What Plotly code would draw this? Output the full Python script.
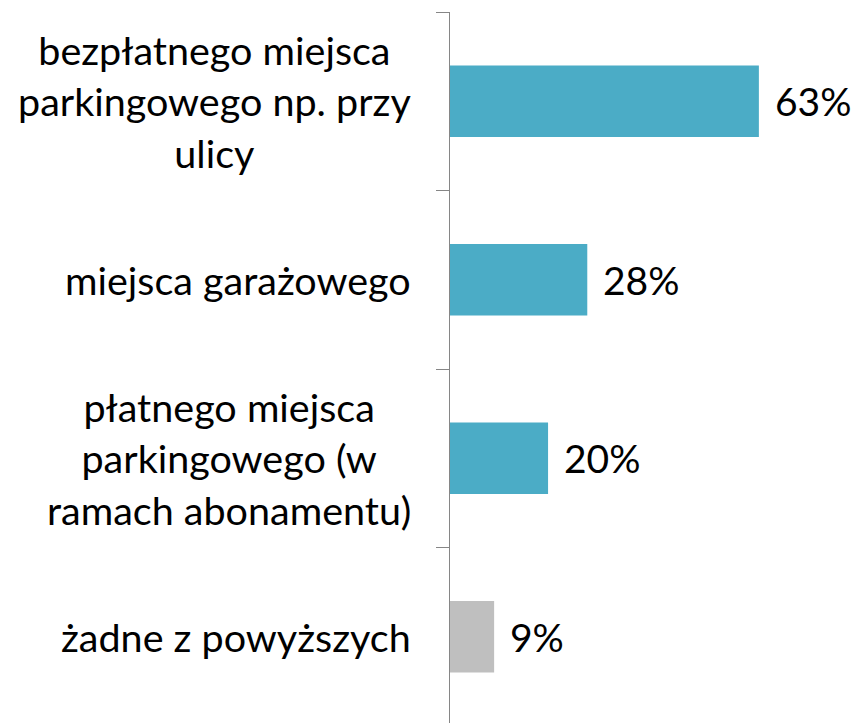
import plotly.graph_objects as go

categories = [
    "bezpłatnego miejsca<br>parkingowego np. przy<br>ulicy",
    "miejsca garażowego",
    "płatnego miejsca<br>parkingowego (w<br>ramach abonamentu)",
    "żadne z powyższych",
]
values = [63, 28, 20, 9]
labels = ["63%", "28%", "20%", "9%"]
colors = ["#4BACC6", "#4BACC6", "#4BACC6", "#BFBFBF"]

FONT = "Lato"
positions = list(range(len(categories)))

fig = go.Figure(
    go.Bar(
        x=values,
        y=positions,
        orientation="h",
        marker=dict(color=colors, line=dict(width=0)),
        hoverinfo="skip",
    )
)

annotations = []
for p, cat in zip(positions, categories):
    annotations.append(dict(
        x=0, xref="paper", y=p, yref="y", text=cat, showarrow=False,
        xanchor="right", yanchor="middle", align="center", xshift=-37,
        font=dict(family=FONT, size=39.5, color="#000000"),
    ))
for p, v, lab in zip(positions, values, labels):
    annotations.append(dict(
        x=v, xref="x", y=p, yref="y", text=lab, showarrow=False,
        xanchor="left", yanchor="middle", xshift=14,
        font=dict(family=FONT, size=39, color="#000000"),
    ))

fig.update_layout(
    width=854, height=723,
    margin=dict(l=450, r=0, t=12, b=0),
    paper_bgcolor="white", plot_bgcolor="white",
    bargap=0.6,
    showlegend=False,
    annotations=annotations,
    xaxis=dict(range=[0, 82.4], visible=False, fixedrange=True),
    yaxis=dict(
        range=[3.483, -0.5],
        tickmode="array", tickvals=[-0.5, 0.5, 1.5, 2.5],
        showticklabels=False, ticks="outside", ticklen=13, tickwidth=1,
        tickcolor="#868686", showline=True, linecolor="#868686", linewidth=1,
        showgrid=False, zeroline=False, fixedrange=True,
    ),
)

fig.write_html(
    "out.html",
    config={"displayModeBar": False, "staticPlot": True},
    post_script="document.body.style.margin='0';document.body.style.overflow='hidden';",
)
